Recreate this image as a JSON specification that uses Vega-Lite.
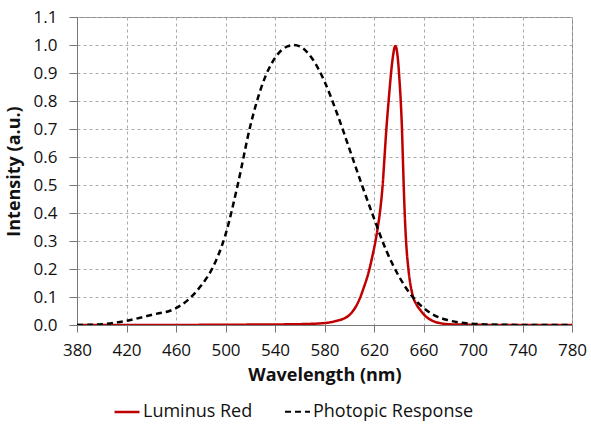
{
  "$schema": "https://vega.github.io/schema/vega-lite/v6.json",
  "autosize": {"type": "none"},
  "padding": {"left": 77, "top": 17, "right": 19, "bottom": 107},
  "width": 495,
  "height": 308,
  "background": "white",
  "config": {
    "font": "Open Sans",
    "view": {"stroke": "#888888", "strokeWidth": 1},
    "axis": {
      "labelFont": "Open Sans",
      "labelFontSize": 17,
      "labelColor": "#111111",
      "titleFont": "Open Sans",
      "titleFontSize": 18,
      "titleFontWeight": "bold",
      "titleColor": "#111111",
      "domainColor": "#777777",
      "tickColor": "#777777",
      "gridColor": "#aaaaaa",
      "gridDash": [3, 3],
      "gridWidth": 1
    },
    "legend": {
      "labelFont": "Open Sans",
      "labelFontSize": 18,
      "labelColor": "#111111",
      "labelLimit": 400
    }
  },
  "data": {
    "values": [
      {"series": "Luminus Red", "wavelength": 380, "intensity": 0},
      {"series": "Luminus Red", "wavelength": 450, "intensity": 0},
      {"series": "Luminus Red", "wavelength": 500, "intensity": 0.001},
      {"series": "Luminus Red", "wavelength": 540, "intensity": 0.002},
      {"series": "Luminus Red", "wavelength": 560, "intensity": 0.003},
      {"series": "Luminus Red", "wavelength": 580, "intensity": 0.007},
      {"series": "Luminus Red", "wavelength": 590, "intensity": 0.015},
      {"series": "Luminus Red", "wavelength": 595, "intensity": 0.022},
      {"series": "Luminus Red", "wavelength": 600, "intensity": 0.035},
      {"series": "Luminus Red", "wavelength": 603, "intensity": 0.05},
      {"series": "Luminus Red", "wavelength": 606, "intensity": 0.071},
      {"series": "Luminus Red", "wavelength": 609, "intensity": 0.1},
      {"series": "Luminus Red", "wavelength": 612, "intensity": 0.137},
      {"series": "Luminus Red", "wavelength": 615, "intensity": 0.178},
      {"series": "Luminus Red", "wavelength": 617, "intensity": 0.212},
      {"series": "Luminus Red", "wavelength": 619, "intensity": 0.252},
      {"series": "Luminus Red", "wavelength": 621, "intensity": 0.295},
      {"series": "Luminus Red", "wavelength": 623, "intensity": 0.347},
      {"series": "Luminus Red", "wavelength": 625, "intensity": 0.41},
      {"series": "Luminus Red", "wavelength": 627, "intensity": 0.5},
      {"series": "Luminus Red", "wavelength": 628.5, "intensity": 0.6},
      {"series": "Luminus Red", "wavelength": 630, "intensity": 0.7},
      {"series": "Luminus Red", "wavelength": 632, "intensity": 0.81},
      {"series": "Luminus Red", "wavelength": 634, "intensity": 0.91},
      {"series": "Luminus Red", "wavelength": 635.5, "intensity": 0.965},
      {"series": "Luminus Red", "wavelength": 636.4, "intensity": 0.988},
      {"series": "Luminus Red", "wavelength": 637.2, "intensity": 0.996},
      {"series": "Luminus Red", "wavelength": 638, "intensity": 0.99},
      {"series": "Luminus Red", "wavelength": 638.8, "intensity": 0.97},
      {"series": "Luminus Red", "wavelength": 639.6, "intensity": 0.935},
      {"series": "Luminus Red", "wavelength": 640.5, "intensity": 0.88},
      {"series": "Luminus Red", "wavelength": 641.6, "intensity": 0.8},
      {"series": "Luminus Red", "wavelength": 642.6, "intensity": 0.7},
      {"series": "Luminus Red", "wavelength": 643.3, "intensity": 0.6},
      {"series": "Luminus Red", "wavelength": 644, "intensity": 0.5},
      {"series": "Luminus Red", "wavelength": 644.8, "intensity": 0.4},
      {"series": "Luminus Red", "wavelength": 645.9, "intensity": 0.3},
      {"series": "Luminus Red", "wavelength": 647.8, "intensity": 0.2},
      {"series": "Luminus Red", "wavelength": 651, "intensity": 0.11},
      {"series": "Luminus Red", "wavelength": 654.5, "intensity": 0.072},
      {"series": "Luminus Red", "wavelength": 658, "intensity": 0.05},
      {"series": "Luminus Red", "wavelength": 662, "intensity": 0.03},
      {"series": "Luminus Red", "wavelength": 666, "intensity": 0.018},
      {"series": "Luminus Red", "wavelength": 673, "intensity": 0.007},
      {"series": "Luminus Red", "wavelength": 684, "intensity": 0.002},
      {"series": "Luminus Red", "wavelength": 700, "intensity": 0.001},
      {"series": "Luminus Red", "wavelength": 720, "intensity": 0},
      {"series": "Luminus Red", "wavelength": 780, "intensity": 0},
      {"series": "Photopic Response", "wavelength": 380, "intensity": 0},
      {"series": "Photopic Response", "wavelength": 390, "intensity": 0.0005},
      {"series": "Photopic Response", "wavelength": 400, "intensity": 0.003},
      {"series": "Photopic Response", "wavelength": 410, "intensity": 0.008},
      {"series": "Photopic Response", "wavelength": 420, "intensity": 0.015},
      {"series": "Photopic Response", "wavelength": 440, "intensity": 0.036},
      {"series": "Photopic Response", "wavelength": 460, "intensity": 0.06},
      {"series": "Photopic Response", "wavelength": 470, "intensity": 0.091},
      {"series": "Photopic Response", "wavelength": 480, "intensity": 0.139},
      {"series": "Photopic Response", "wavelength": 490, "intensity": 0.208},
      {"series": "Photopic Response", "wavelength": 500, "intensity": 0.323},
      {"series": "Photopic Response", "wavelength": 510, "intensity": 0.503},
      {"series": "Photopic Response", "wavelength": 520, "intensity": 0.71},
      {"series": "Photopic Response", "wavelength": 530, "intensity": 0.862},
      {"series": "Photopic Response", "wavelength": 540, "intensity": 0.954},
      {"series": "Photopic Response", "wavelength": 550, "intensity": 0.995},
      {"series": "Photopic Response", "wavelength": 555, "intensity": 1.0},
      {"series": "Photopic Response", "wavelength": 560, "intensity": 0.995},
      {"series": "Photopic Response", "wavelength": 570, "intensity": 0.952},
      {"series": "Photopic Response", "wavelength": 580, "intensity": 0.87},
      {"series": "Photopic Response", "wavelength": 590, "intensity": 0.757},
      {"series": "Photopic Response", "wavelength": 600, "intensity": 0.631},
      {"series": "Photopic Response", "wavelength": 610, "intensity": 0.503},
      {"series": "Photopic Response", "wavelength": 620, "intensity": 0.381},
      {"series": "Photopic Response", "wavelength": 630, "intensity": 0.265},
      {"series": "Photopic Response", "wavelength": 640, "intensity": 0.175},
      {"series": "Photopic Response", "wavelength": 650, "intensity": 0.107},
      {"series": "Photopic Response", "wavelength": 660, "intensity": 0.061},
      {"series": "Photopic Response", "wavelength": 670, "intensity": 0.032},
      {"series": "Photopic Response", "wavelength": 680, "intensity": 0.017},
      {"series": "Photopic Response", "wavelength": 690, "intensity": 0.0082},
      {"series": "Photopic Response", "wavelength": 700, "intensity": 0.0041},
      {"series": "Photopic Response", "wavelength": 710, "intensity": 0.0021},
      {"series": "Photopic Response", "wavelength": 720, "intensity": 0.001},
      {"series": "Photopic Response", "wavelength": 740, "intensity": 0.00025},
      {"series": "Photopic Response", "wavelength": 760, "intensity": 0.00006},
      {"series": "Photopic Response", "wavelength": 780, "intensity": 0}
    ]
  },
  "mark": {"type": "line", "interpolate": "monotone", "strokeWidth": 2.5, "clip": true},
  "encoding": {
    "x": {
      "field": "wavelength",
      "type": "quantitative",
      "title": "Wavelength (nm)",
      "scale": {"domain": [380, 780], "nice": false, "zero": false},
      "axis": {
        "values": [380, 420, 460, 500, 540, 580, 620, 660, 700, 740, 780],
        "tickSize": 7,
        "labelPadding": 10,
        "titlePadding": 8,
        "labelFlush": false
      }
    },
    "y": {
      "field": "intensity",
      "type": "quantitative",
      "title": "Intensity (a.u.)",
      "scale": {"domain": [0, 1.1], "nice": false},
      "axis": {
        "values": [0, 0.1, 0.2, 0.3, 0.4, 0.5, 0.6, 0.7, 0.8, 0.9, 1.0, 1.1],
        "format": ".1f",
        "tickSize": 8,
        "labelPadding": 12,
        "titlePadding": 10,
        "labelFlush": false
      }
    },
    "color": {
      "field": "series",
      "type": "nominal",
      "title": null,
      "scale": {"domain": ["Luminus Red", "Photopic Response"], "range": ["#C00000", "#000000"]},
      "legend": {
        "orient": "none",
        "legendX": 36,
        "legendY": 381,
        "direction": "horizontal",
        "symbolType": "stroke",
        "symbolSize": 625,
        "symbolStrokeWidth": 2.5,
        "labelOffset": 2,
        "columnPadding": 28
      }
    },
    "strokeDash": {
      "field": "series",
      "type": "nominal",
      "title": null,
      "scale": {"domain": ["Luminus Red", "Photopic Response"], "range": [[1, 0], [6, 4]]}
    },
    "strokeWidth": {
      "field": "series",
      "type": "nominal",
      "legend": null,
      "scale": {"domain": ["Luminus Red", "Photopic Response"], "range": [2.5, 2]}
    }
  }
}
